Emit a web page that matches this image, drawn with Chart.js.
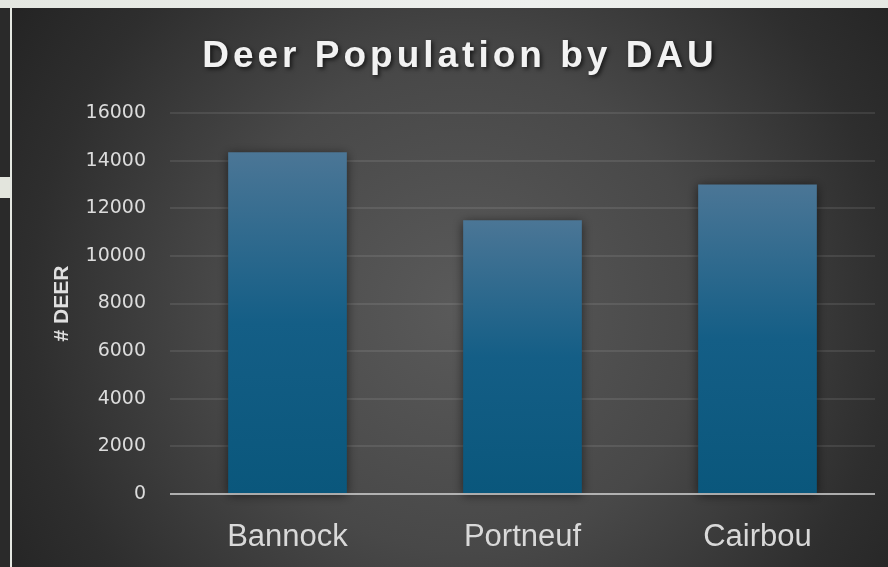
<!DOCTYPE html>
<html>
<head>
<meta charset="utf-8">
<script src="https://cdn.jsdelivr.net/npm/chart.js@4/dist/chart.umd.min.js"></script>
<style>
  html, body { margin: 0; padding: 0; }
  body {
    width: 888px; height: 567px; overflow: hidden; position: relative;
    background: linear-gradient(90deg, #e4e7e1 0%, #eef0ee 60%, #e6e9e4 100%);
  }
  #edge { position: absolute; left: 0; top: 8px; width: 10px; height: 559px; background: #2a2a2a; }
  #edge-tab { position: absolute; left: 0; top: 177px; width: 10px; height: 21px; background: #e3e5dd; }
  #wrap { position: absolute; left: 12px; top: 8px; width: 876px; height: 559px; }
</style>
</head>
<body>
<div id="edge"></div>
<div id="edge-tab"></div>
<div id="wrap"><canvas id="chart" width="876" height="559"></canvas></div>
<script>
// Deer counts per Data Analysis Unit
const categories = ['Bannock', 'Portneuf', 'Cairbou'];
const deerCounts = [14350, 11500, 13000];
const yMin = 0;
const yMax = 16000;
const yStep = 2000;
const chartTitle = 'Deer Population by DAU';
const yAxisTitle = '# DEER';

// dark radial backdrop
const backdrop = {
  id: 'backdrop',
  beforeDraw(chart) {
    const { ctx, width, height } = chart;
    const g = ctx.createRadialGradient(450, 300, 0, 450, 300, 540);
    g.addColorStop(0, '#5a5a5a');
    g.addColorStop(0.45, '#484848');
    g.addColorStop(0.8, '#2e2e2e');
    g.addColorStop(1, '#242424');
    ctx.save();
    ctx.fillStyle = g;
    ctx.fillRect(0, 0, width, height);
    ctx.restore();
  }
};

// spaced, shadowed heading
const heading = {
  id: 'heading',
  afterDraw(chart) {
    const { ctx } = chart;
    ctx.save();
    ctx.font = 'bold 37px "Liberation Sans", Arial, sans-serif';
    ctx.letterSpacing = '4px';
    const w = ctx.measureText(chartTitle).width - 4;
    const cx = chart.width / 2 + 8;
    ctx.textAlign = 'left';
    ctx.textBaseline = 'alphabetic';
    ctx.shadowColor = 'rgba(0,0,0,0.65)';
    ctx.shadowBlur = 4;
    ctx.shadowOffsetX = 2;
    ctx.shadowOffsetY = 2;
    ctx.fillStyle = '#f2f2f2';
    ctx.fillText(chartTitle, cx - w / 2, 59);
    ctx.restore();
  }
};

// soft shadow under the bars, then the category axis line on top
const barShadow = {
  id: 'barShadow',
  beforeDatasetsDraw(chart) {
    const { ctx } = chart;
    ctx.save();
    ctx.shadowColor = 'rgba(0,0,0,0.55)';
    ctx.shadowBlur = 10;
    ctx.shadowOffsetX = 0;
    ctx.shadowOffsetY = 2;
  },
  afterDatasetsDraw(chart) {
    const { ctx, chartArea, scales } = chart;
    ctx.restore();
    const y0 = scales.y.getPixelForValue(0);
    ctx.save();
    ctx.strokeStyle = 'rgba(200,200,200,0.8)';
    ctx.lineWidth = 2;
    ctx.beginPath();
    ctx.moveTo(chartArea.left, y0);
    ctx.lineTo(chartArea.right, y0);
    ctx.stroke();
    ctx.restore();
  }
};

function barFill(c) {
  const chart = c.chart;
  if (!chart.chartArea || c.dataIndex === undefined) return '#1a6289';
  const v = c.dataset.data[c.dataIndex];
  const top = chart.scales.y.getPixelForValue(v);
  const bottom = chart.scales.y.getPixelForValue(0);
  const g = chart.ctx.createLinearGradient(0, top, 0, bottom);
  g.addColorStop(0, '#4b7696');
  g.addColorStop(0.5, '#145e86');
  g.addColorStop(1, '#0a577c');
  return g;
}

new Chart(document.getElementById('chart'), {
  type: 'bar',
  data: {
    labels: categories,
    datasets: [{
      data: deerCounts,
      backgroundColor: barFill,
      borderWidth: 0,
      categoryPercentage: 1,
      barPercentage: 0.505,
      clip: false
    }]
  },
  options: {
    responsive: false,
    animation: false,
    events: [],
    layout: { padding: { top: 105, right: 13, left: 0, bottom: 0 } },
    plugins: {
      legend: { display: false },
      title: { display: false },
      tooltip: { enabled: false }
    },
    scales: {
      x: {
        grid: { display: false, drawTicks: false },
        border: { display: false },
        ticks: {
          color: '#d9d9d9',
          padding: 25,
          font: { family: '"Liberation Sans", Arial, sans-serif', size: 31 }
        },
        afterFit(scale) { scale.height = 73; }
      },
      y: {
        min: yMin,
        max: yMax,
        grid: { color: 'rgba(255,255,255,0.09)', lineWidth: 2, drawTicks: false },
        border: { display: false },
        ticks: {
          stepSize: yStep,
          color: '#dcdcdc',
          padding: 24,
          font: { family: '"DejaVu Sans", sans-serif', size: 19 },
          callback: (v) => String(v)
        },
        title: {
          display: true,
          text: yAxisTitle,
          color: '#e0e0e0',
          padding: { top: 38, bottom: 0 },
          font: { family: '"Liberation Sans", Arial, sans-serif', size: 21, weight: 'bold' }
        },
        afterFit(scale) { scale.width = 158; }
      }
    }
  },
  plugins: [backdrop, barShadow, heading]
});
</script>
</body>
</html>
